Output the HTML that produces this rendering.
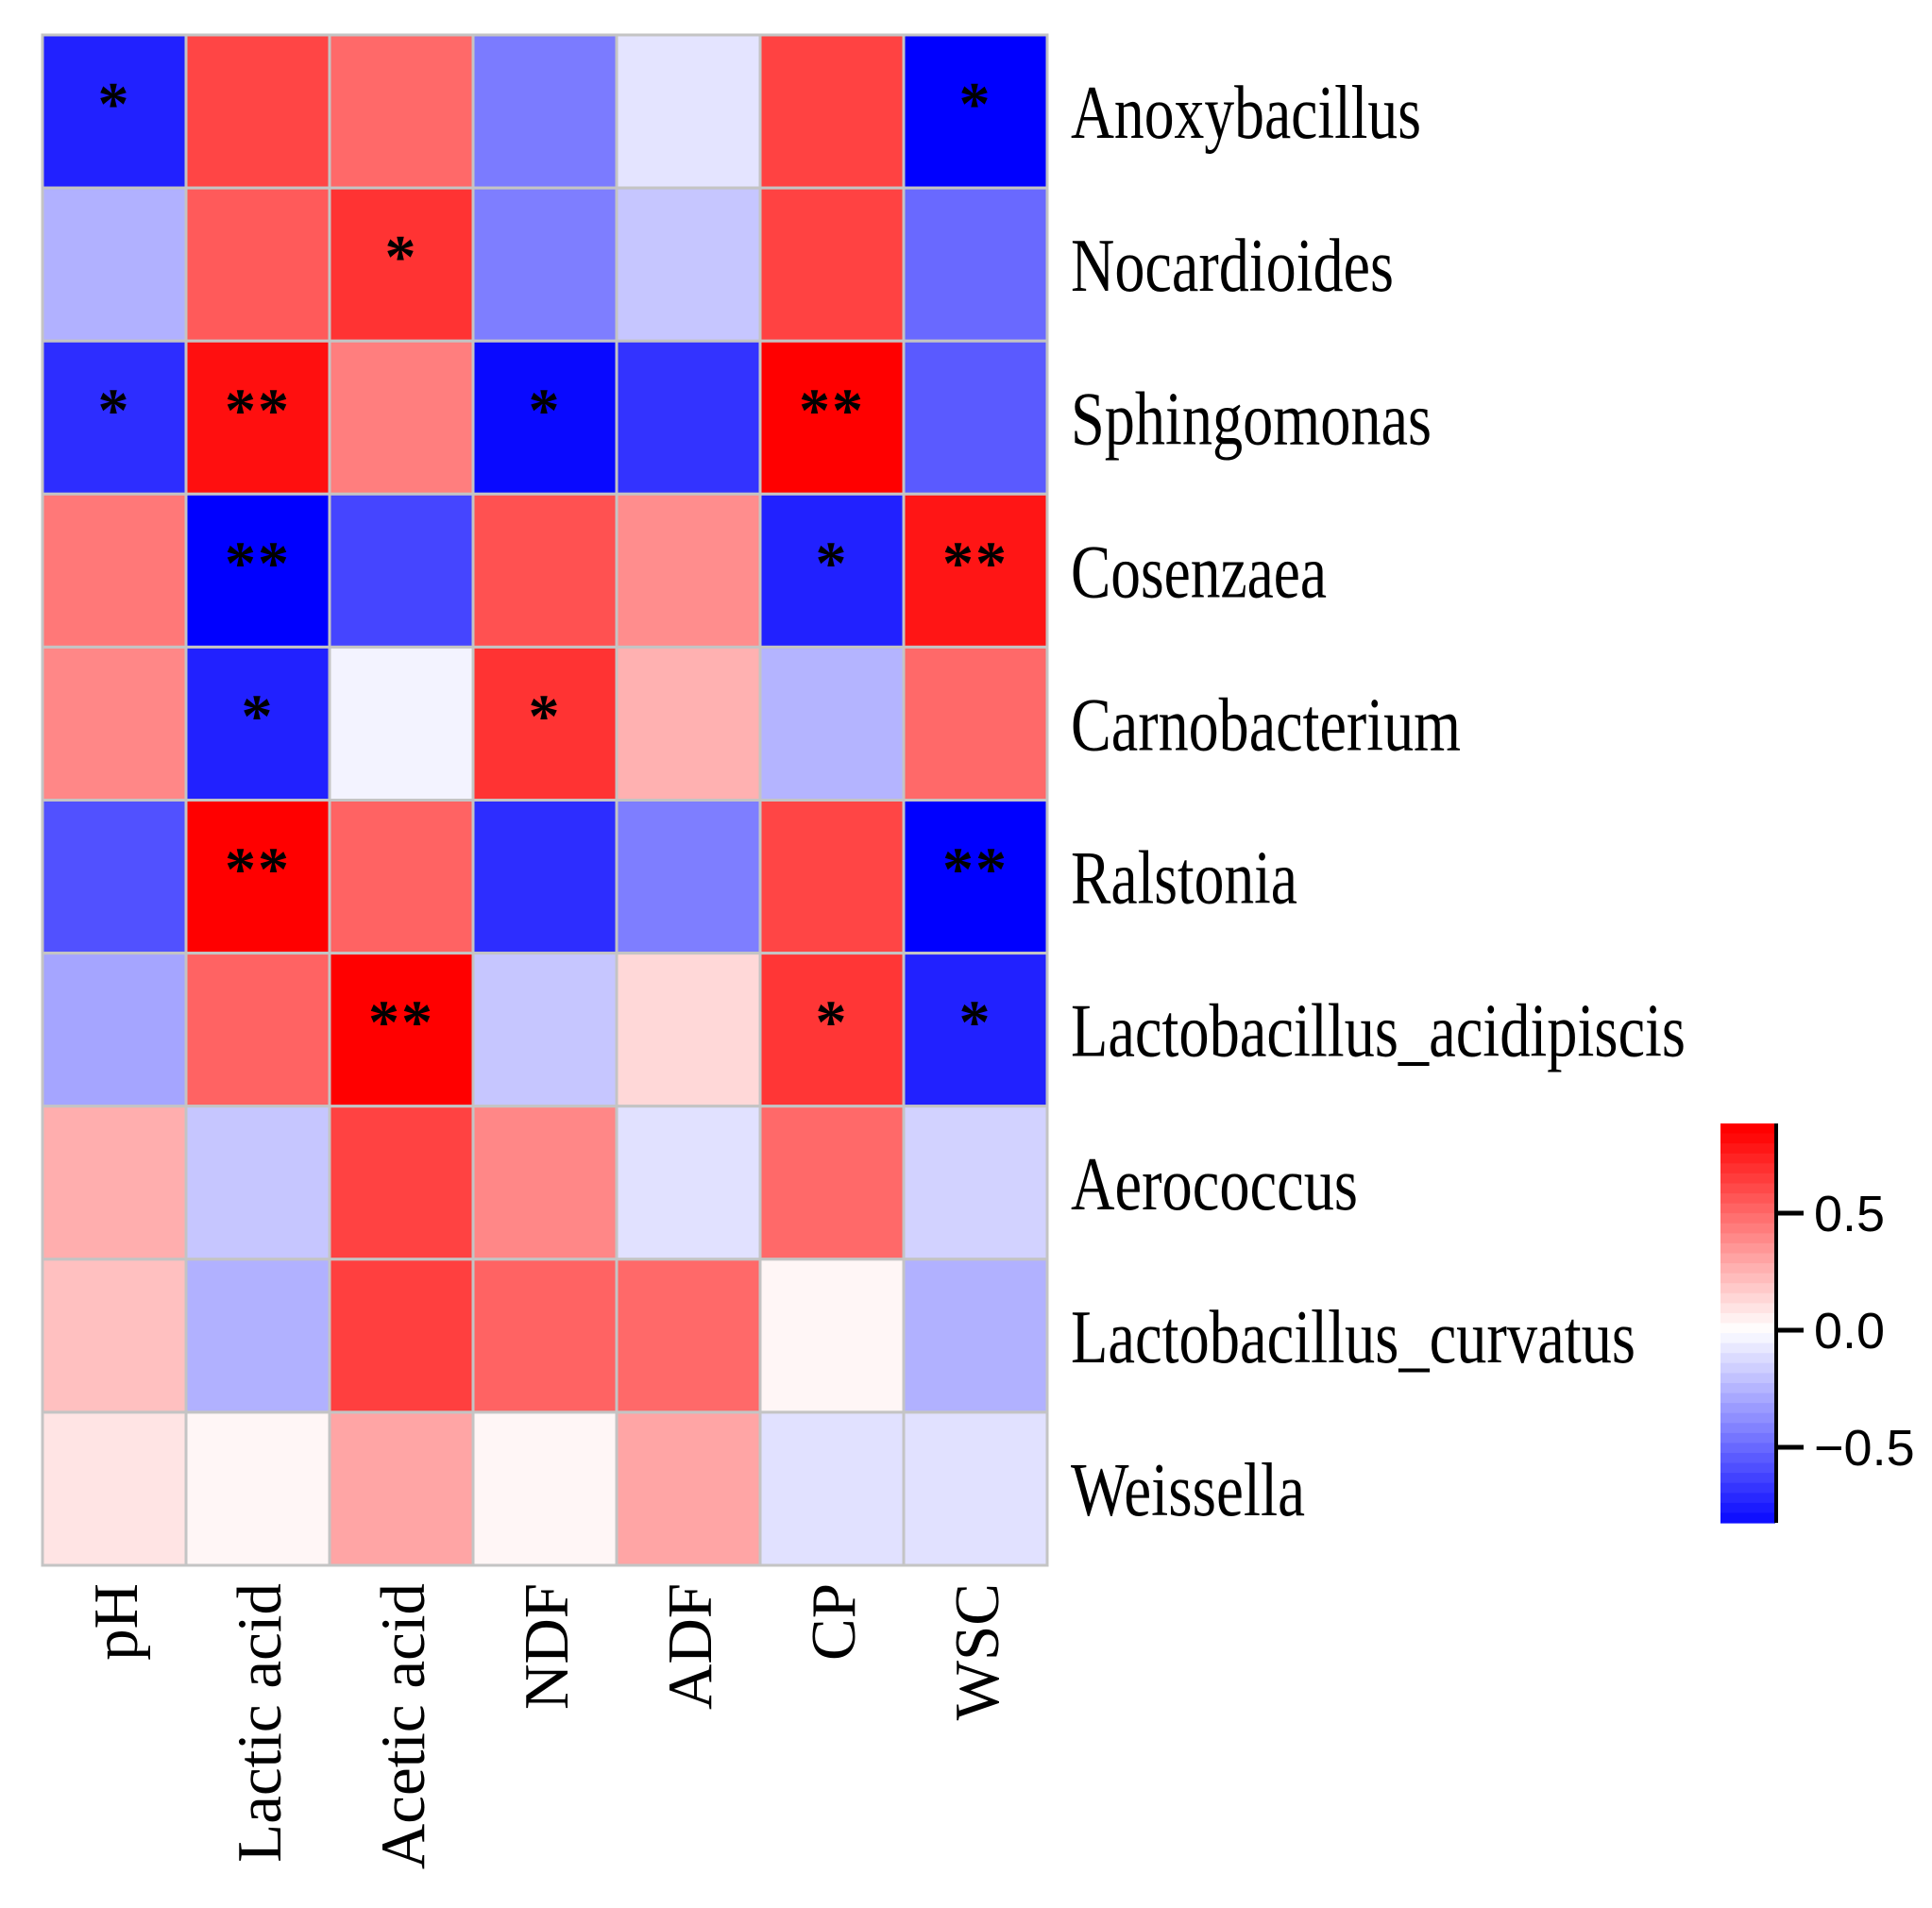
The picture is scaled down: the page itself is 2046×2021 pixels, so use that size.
<!DOCTYPE html>
<html><head><meta charset="utf-8"><style>
html,body{margin:0;padding:0;background:#fff;}
svg{display:block;}
</style></head><body>
<svg id="chart" width="2046" height="2021" viewBox="0 0 2046 2021" xmlns="http://www.w3.org/2000/svg">
<rect x="0" y="0" width="2046" height="2021" fill="#fff"/>
<g id="cells"></g><g id="stars"></g><g id="rowlabels"></g><g id="collabels"></g><g id="legend"></g>
</svg>
<script>
const columns = ["pH","Lactic acid","Acetic acid","NDF","ADF","CP","WSC"];
const rows = ["Anoxybacillus","Nocardioides","Sphingomonas","Cosenzaea","Carnobacterium","Ralstonia","Lactobacillus_acidipiscis","Aerococcus","Lactobacillus_curvatus","Weissella"];
const values = [
 [-0.74, 0.62, 0.50,-0.44,-0.09, 0.63,-0.85],
 [-0.26, 0.55, 0.68,-0.43,-0.19, 0.63,-0.50],
 [-0.70, 0.80, 0.43,-0.82,-0.68, 0.85,-0.55],
 [ 0.45,-0.85,-0.62, 0.58, 0.38,-0.74, 0.78],
 [ 0.40,-0.74,-0.04, 0.68, 0.26,-0.25, 0.50],
 [-0.58, 0.85, 0.52,-0.70,-0.43, 0.62,-0.85],
 [-0.30, 0.52, 0.85,-0.19, 0.13, 0.67,-0.74],
 [ 0.27,-0.19, 0.63, 0.40,-0.10, 0.50,-0.15],
 [ 0.21,-0.26, 0.64, 0.52, 0.50, 0.03,-0.26],
 [ 0.09, 0.03, 0.30, 0.03, 0.30,-0.10,-0.10]
];
const signif = [
 ["*","","","","","","*"],
 ["","","*","","","",""],
 ["*","**","","*","","**",""],
 ["","**","","","","*","**"],
 ["","*","","*","","",""],
 ["","**","","","","","**"],
 ["","","**","","","*","*"],
 ["","","","","","",""],
 ["","","","","","",""],
 ["","","","","","",""]
];
const rowLabelWidths = [371,342,382,271,413,240,651,304,598,248];
const colorTicks = [0.5, 0.0, -0.5];
const colorTickLabels = ["0.5","0.0","\u22120.5"];

const NS="http://www.w3.org/2000/svg";
const gx0=45, gy0=37, cw=152.0, ch=162.1, vmax=0.85;
function xPos(i){return gx0+i*cw;}
function yPos(j){return gy0+j*ch;}
function color(v){
  const t=Math.max(-1,Math.min(1,v/vmax));
  if(t>=0){const c=Math.round(255*(1-t));return `rgb(255,${c},${c})`;}
  const c=Math.round(255*(1+t));return `rgb(${c},${c},255)`;
}
function mk(tag,attrs,parent){const e=document.createElementNS(NS,tag);for(const k in attrs)e.setAttribute(k,attrs[k]);parent.appendChild(e);return e;}
const gC=document.getElementById('cells'),gS=document.getElementById('stars'),gR=document.getElementById('rowlabels'),gL=document.getElementById('collabels'),gG=document.getElementById('legend');
for(let j=0;j<rows.length;j++){
  for(let i=0;i<columns.length;i++){
    const r=mk('rect',{x:xPos(i),y:yPos(j),width:cw,height:ch,fill:color(values[j][i]),stroke:'#c4c4c4','stroke-width':3},gC);
    
    
    if(signif[j][i]){
      const s=mk('text',{x:xPos(i)+cw/2,y:yPos(j)+ch/2+14,'text-anchor':'middle','font-family':'"Liberation Serif",serif','font-size':66,'font-weight':'bold',fill:'#000','letter-spacing':2},gS);
      s.textContent=signif[j][i];
      
      
    }
  }
  const t=mk('text',{x:1134,y:yPos(j)+ch/2+28,'font-family':'"Liberation Serif",serif','font-size':80,fill:'#000',textLength:rowLabelWidths[j],lengthAdjust:'spacingAndGlyphs'},gR);
  t.textContent=rows[j];
  
  
}
for(let i=0;i<columns.length;i++){
  const cx=xPos(i)+cw/2+24;
  const t=mk('text',{x:0,y:0,transform:`translate(${cx},1677) rotate(-90)`,'text-anchor':'end','font-family':'"Liberation Serif",serif','font-size':67,fill:'#000'},gL);
  t.textContent=columns[i];
  
  
}
const cbx=1822,cbw=58,cbTop=1190,cbBot=1613,cbZero=1409,cbPer=248;
function cbY(v){return cbZero-v*cbPer;}
const steps=40;
const vTop=(cbZero-cbTop)/cbPer, vBot=(cbZero-cbBot)/cbPer;
for(let k=0;k<steps;k++){
  const v0=vTop-(vTop-vBot)*k/steps, v1=vTop-(vTop-vBot)*(k+1)/steps;
  const r=mk('rect',{x:cbx,y:cbY(v0),width:cbw,height:cbY(v1)-cbY(v0)+0.6,fill:color((v0+v1)/2)},gG);
  
  
}
const ax=mk('line',{x1:cbx+cbw+1,y1:cbTop,x2:cbx+cbw+1,y2:cbBot,stroke:'#000','stroke-width':4},gG);


for(let k=0;k<colorTicks.length;k++){
  const y=cbY(colorTicks[k]);
  const tl=mk('line',{x1:cbx+cbw,y1:y,x2:cbx+cbw+30,y2:y,stroke:'#000','stroke-width':5},gG);
  
  
  const tx=mk('text',{x:1921,y:y+19,'font-family':'"Liberation Sans",sans-serif','font-size':54,fill:'#000'},gG);
  tx.textContent=colorTickLabels[k];
  
  
}
</script>
</body></html>
